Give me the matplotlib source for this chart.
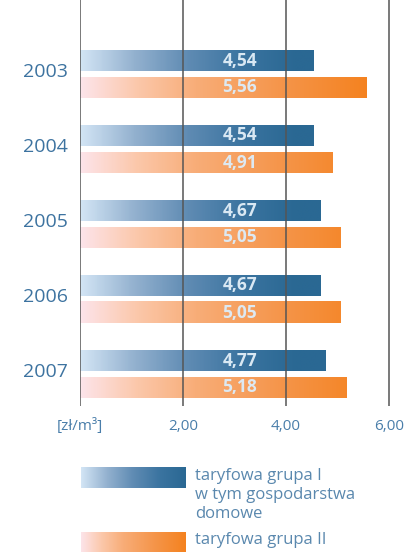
import matplotlib.pyplot as plt
import numpy as np
from matplotlib.colors import LinearSegmentedColormap

# data
years = ['2003', '2004', '2005', '2006', '2007']
group1 = [4.54, 4.54, 4.67, 4.67, 4.77]
group2 = [5.56, 4.91, 5.05, 5.05, 5.18]
tick_vals = [0, 2, 4, 6]
tick_labels = ['[zł/m³]', '2,00', '4,00', '6,00']
legend_labels = ['taryfowa grupa I\nw tym gospodarstwa\ndomowe', 'taryfowa grupa II']

plt.rcParams['font.family'] = ['Open Sans', 'DejaVu Sans']

blue_cmap = LinearSegmentedColormap.from_list(
    'b', [(0, '#d3e5f5'), (0.25, '#93b1cf'), (0.5, '#5f8bb3'), (0.75, '#3b74a0'), (1, '#2a6893')])
orange_cmap = LinearSegmentedColormap.from_list(
    'o', [(0, '#fde4ea'), (0.2, '#fbc7a9'), (0.4, '#f8ad78'), (0.7, '#f5954a'), (1, '#f4821f')])

W, H = 407, 552
fig = plt.figure(figsize=(W / 100, H / 100), dpi=100)

# main axes: x 0 at px 80, 51.5 px per unit; y from px 0 to 406
px_unit = 51.5
left_px, right_px, bottom_px = 80, 404, 406
ax = fig.add_axes([left_px / W, 1 - bottom_px / H, (right_px - left_px) / W, bottom_px / H])
xmax = (right_px - left_px) / px_unit
ax.set_xlim(0, xmax)
spacing = 75.0
top_c = 74.0
ax.set_ylim((bottom_px - top_c) / spacing, -top_c / spacing)
ax.axis('off')

bar_h = 21 / spacing
off = 13.5 / spacing


def grad_bar(axis, y, val, cmap, full):
    n = 256
    xs = np.linspace(0, val, n)
    c = np.clip(xs / full, 0, 1)[None, :]
    axis.imshow(c, cmap=cmap, vmin=0, vmax=1, aspect='auto', interpolation='bilinear',
                extent=[0, val, y + bar_h / 2, y - bar_h / 2], zorder=2)


for i, (yr, v1, v2) in enumerate(zip(years, group1, group2)):
    y1 = i - off
    y2 = i + off
    grad_bar(ax, y1, v1, blue_cmap, 4.2)
    grad_bar(ax, y2, v2, orange_cmap, 5.6)
    ax.text(3.1, y1, f'{v1:.2f}'.replace('.', ','), ha='center', va='center',
            fontsize=12.5, fontweight='bold', color='#d9e8f3', zorder=4)
    ax.text(3.1, y2, f'{v2:.2f}'.replace('.', ','), ha='center', va='center',
            fontsize=12.5, fontweight='bold', color='#dde9f2', zorder=4)
    ax.text(-0.24, i - 0.03, yr, ha='right', va='center', fontsize=14, color='#3d73a0')

for t in tick_vals:
    ax.axvline(t, color='#555555', lw=1.1, zorder=3)

trans = ax.get_xaxis_transform()
for t, lab in zip(tick_vals, tick_labels):
    ax.text(t, -20 / bottom_px, lab, transform=trans, ha='center', va='center',
            fontsize=11, color='#4a7eaa')

# legend in pixel coordinates
lax = fig.add_axes([0, 0, 1, 1])
lax.set_xlim(0, W)
lax.set_ylim(H, 0)
lax.axis('off')
ramp = np.linspace(0, 1, 256)[None, :]
lax.imshow(ramp, cmap=blue_cmap, aspect='auto', extent=[81, 186, 488, 467])
lax.imshow(ramp, cmap=orange_cmap, aspect='auto', extent=[81, 186, 553, 532])
lax.set_xlim(0, W)
lax.set_ylim(H, 0)
lax.text(195, 468, legend_labels[0], ha='left', va='top', fontsize=12,
         color='#5a88ae', linespacing=1.25)
lax.text(195, 532, legend_labels[1], ha='left', va='top', fontsize=12,
         color='#5a88ae')

fig.savefig('out.png', dpi=100)
